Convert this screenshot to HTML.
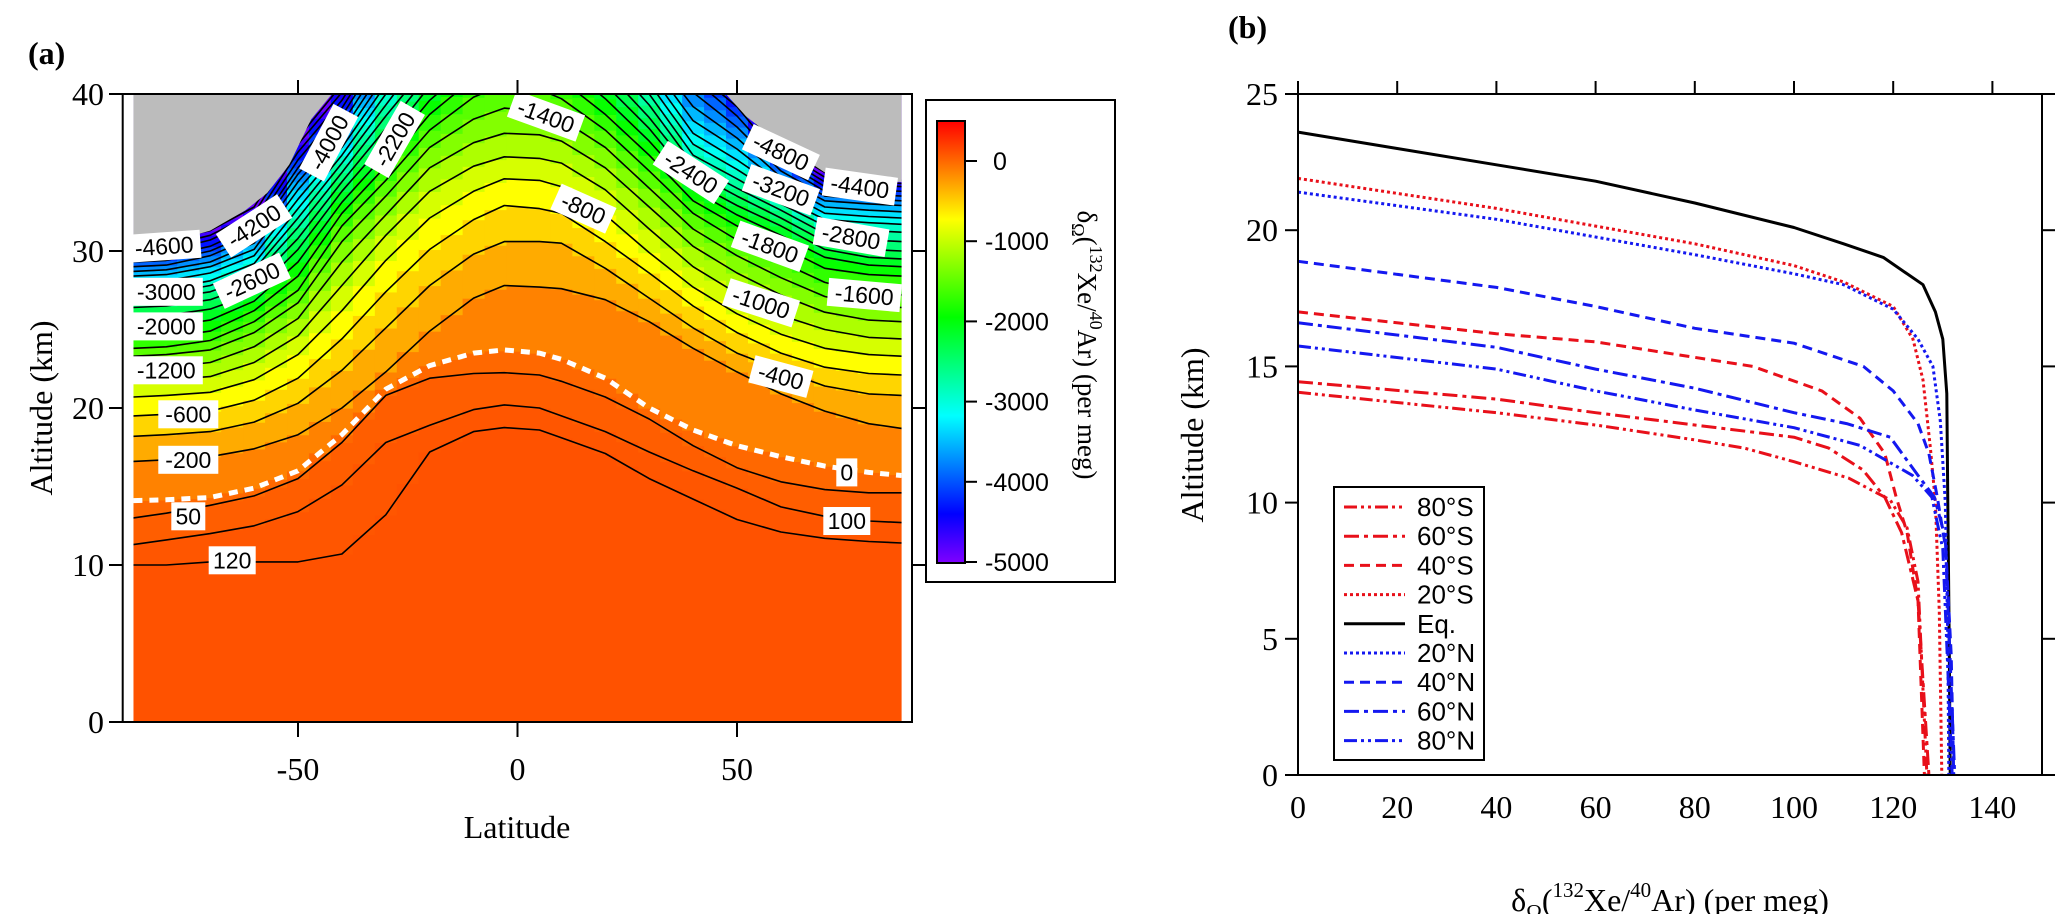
<!DOCTYPE html>
<html>
<head>
<meta charset="utf-8">
<style>
html,body{margin:0;padding:0;background:#fff;}
svg{display:block;}
text{font-family:"Liberation Serif",serif;}
.sans{font-family:"Liberation Sans",sans-serif;}
</style>
</head>
<body>
<svg id="fig" width="2066" height="914" viewBox="0 0 2066 914" xmlns="http://www.w3.org/2000/svg">
  <defs>
    <clipPath id="clipA"><rect x="133.4" y="94" width="768.2" height="628"/></clipPath>
    <linearGradient id="cbGrad" x1="0" y1="0" x2="0" y2="1">
      <stop offset="0" stop-color="hsl(0,100%,50%)"/>
      <stop offset="0.111" stop-color="hsl(30,100%,50%)"/>
      <stop offset="0.222" stop-color="hsl(60,100%,50%)"/>
      <stop offset="0.333" stop-color="hsl(90,100%,50%)"/>
      <stop offset="0.444" stop-color="hsl(120,100%,50%)"/>
      <stop offset="0.556" stop-color="hsl(150,100%,50%)"/>
      <stop offset="0.667" stop-color="hsl(180,100%,50%)"/>
      <stop offset="0.778" stop-color="hsl(210,100%,50%)"/>
      <stop offset="0.889" stop-color="hsl(240,100%,50%)"/>
      <stop offset="1" stop-color="hsl(270,100%,50%)"/>
    </linearGradient>
  </defs>
  <g id="panelA">
    <g id="fieldA" clip-path="url(#clipA)"></g>
    <g id="linesA" clip-path="url(#clipA)"></g>
    <g id="labelsA"></g>
    <g id="axesA"></g>
    <text x="28" y="64" font-size="32" font-weight="bold">(a)</text>
    <text x="517" y="838" font-size="32" text-anchor="middle">Latitude</text>
    <text transform="translate(52,408) rotate(-90)" font-size="32" text-anchor="middle">Altitude (km)</text>
  </g>
  <g id="colorbar">
    <rect x="926" y="100" width="189" height="482" fill="#fff" stroke="#000" stroke-width="2"/>
    <rect x="937" y="121" width="28" height="442" fill="url(#cbGrad)" stroke="#000" stroke-width="2"/>
    <g id="cbTicks"></g>
    <text transform="translate(1078,345) rotate(90)" font-size="27" text-anchor="middle">δ<tspan font-size="18" dy="6">Ω</tspan><tspan dy="-6">(</tspan><tspan font-size="18" dy="-12">132</tspan><tspan dy="12">Xe/</tspan><tspan font-size="18" dy="-12">40</tspan><tspan dy="12">Ar) (per meg)</tspan></text>
  </g>
  <g id="panelB">
    <g id="linesB"></g>
    <g id="axesB"></g>
    <g id="legendB"></g>
    <text x="1228" y="38" font-size="32" font-weight="bold">(b)</text>
    <text transform="translate(1203,435) rotate(-90)" font-size="32" text-anchor="middle">Altitude (km)</text>
    <text x="1670" y="911" font-size="32" text-anchor="middle">δ<tspan font-size="21" dy="8">Ω</tspan><tspan dy="-8">(</tspan><tspan font-size="21" dy="-14">132</tspan><tspan dy="14">Xe/</tspan><tspan font-size="21" dy="-14">40</tspan><tspan dy="14">Ar) (per meg)</tspan></text>
  </g>
</svg>
<script>
// ---------- Panel (a) data ----------
const levels = [120,100,50,0,-200,-400,-600,-800,-1000,-1200,-1400,-1600,-1800,-2000,-2200,-2400,-2600,-2800,-3000,-3200,-3400,-3600,-3800,-4000,-4200,-4400,-4600,-4800];
const gridLat = [-87.5,-80,-70,-60,-50,-40,-30,-20,-10,-3,5,10,20,30,40,50,60,70,80,87.5];
// altitude (km) of every contour level, one row per latitude in gridLat
const altByLat = [
 [10.0,11.3,13.0,14.1,16.6,18.2,19.5,20.7,21.7,22.5,23.3,23.8,24.4,25.1,25.8,26.4,26.9,27.2,27.5,28.0,28.4,28.7,29.0,29.3,29.6,29.9,30.2,30.6],
 [10.0,11.6,13.3,14.15,16.7,18.3,19.6,20.8,21.8,22.6,23.4,23.9,24.5,25.2,25.9,26.5,27.0,27.3,27.6,28.1,28.5,28.8,29.1,29.4,29.7,30.0,30.3,30.7],
 [10.2,12.0,13.8,14.3,16.9,18.5,19.8,21.0,22.0,22.9,23.7,24.3,24.9,25.6,26.3,26.9,27.4,27.8,28.1,28.6,29.0,29.3,29.7,30.0,30.3,30.7,31.0,31.3],
 [10.2,12.5,14.4,14.9,17.4,19.1,20.5,21.8,22.9,23.9,24.8,25.5,26.2,26.8,27.3,27.9,28.4,28.8,29.2,29.7,30.1,30.5,30.9,31.2,31.6,32.0,32.4,32.8],
 [10.2,13.4,15.5,16.0,18.3,20.3,21.9,23.4,24.6,25.7,26.7,27.5,28.4,29.3,30.1,30.8,31.5,32.1,32.7,33.3,33.9,34.4,34.9,35.3,35.8,36.3,36.8,37.2],
 [10.7,15.1,17.8,18.3,20.0,22.4,24.4,26.2,27.8,29.3,30.6,31.6,32.4,33.1,33.8,34.4,35.0,35.6,36.1,36.6,37.1,37.6,38.1,38.6,39.1,39.6,40.1,40.6],
 [13.2,17.8,20.8,21.2,22.3,25.1,27.4,29.4,31.0,32.3,33.5,34.5,35.4,36.2,37.0,37.8,38.6,39.3,40.0,40.6,41.2,41.8,42.4,43.0,43.5,44.0,44.5,45.0],
 [17.2,18.9,21.9,22.7,24.9,27.8,30.1,32.1,33.8,35.3,36.6,37.7,38.7,39.6,40.5,41.3,42,43,44,45,46,47,48,49],
 [18.5,19.9,22.2,23.5,27.0,29.8,32.0,33.8,35.4,36.9,38.4,39.8,41.0,42,43,44,45,46,47,48,49,50,51,52],
 [18.75,20.2,22.25,23.7,27.8,30.6,32.9,34.6,36.0,37.5,39.1,40.6,42,43,44,45,46,47,48,49,50,51,52,53],
 [18.6,20.0,22.1,23.5,27.7,30.6,32.7,34.5,35.9,37.4,38.9,40.3,41.5,42.5,43.5,44.5,45.5,46.5,47.5,48.5,49.5,50.5,51.5,52.5],
 [18.1,19.5,21.7,23.1,27.6,30.5,32.4,34.1,35.6,37.0,38.4,39.7,40.9,42,43,44,45,46,47,48,49,50,51,52],
 [17.1,18.5,20.7,21.9,26.9,28.9,30.6,32.3,33.9,35.3,36.6,37.7,38.7,39.7,40.6,41.5,42.4,43.3,44.2,45.1,46.0,46.9,47.8,48.7],
 [15.5,17.2,19.3,20.0,25.5,27.0,28.6,29.9,31.4,32.8,34.0,35.1,36.1,37.0,37.8,38.5,39.3,40.0,40.7,41.4,42.1,42.8,43.5,44.2],
 [14.2,16.0,17.6,18.6,23.8,25.1,26.5,27.7,29.0,30.3,31.4,32.4,33.2,33.9,34.4,35.0,35.5,36.1,36.8,37.5,38.3,39.2,40.1,41.0,41.5,42.0,42.5,43.0],
 [12.9,14.9,16.2,17.6,22.3,23.5,24.8,26.0,27.3,28.6,29.7,30.7,31.6,32.3,32.9,33.5,34.0,34.6,35.2,35.8,36.5,37.2,37.9,38.6,39.2,39.7,40.2,40.6],
 [12.1,13.7,15.3,16.9,20.9,22.4,23.5,24.7,25.9,27.2,28.3,29.3,30.3,31.0,31.6,32.1,32.6,33.0,33.4,33.9,34.3,34.7,35.1,35.5,35.8,36.1,36.4,36.7],
 [11.7,13.1,14.8,16.3,19.8,21.4,22.6,23.8,25.0,26.1,27.1,28.0,28.9,29.6,30.1,30.6,31.1,31.6,32.0,32.4,32.8,33.2,33.5,33.8,34.1,34.4,34.7,35.0],
 [11.5,12.8,14.6,15.9,19.0,20.9,22.2,23.4,24.5,25.6,26.5,27.3,28.5,29.1,29.6,30.1,30.7,31.3,31.8,32.2,32.6,33.0,33.3,33.6,33.9,34.2,34.4,34.6],
 [11.4,12.7,14.6,15.7,18.7,20.8,22.1,23.3,24.4,25.5,26.4,27.2,28.4,29.0,29.5,30.0,30.6,31.2,31.7,32.1,32.5,32.9,33.2,33.5,33.8,34.1,34.3,34.5]
];
// masked (no data) region boundaries [lat, km]
const greyLeft = [[-87.5,40],[-87.5,30.9],[-75,30.9],[-70,31.3],[-62,32.6],[-57,33.7],[-52,35.5],[-47,38.4],[-42.3,40]];
const greyRight = [[47.5,40],[52,38.6],[57,37.5],[62,36.5],[70,35.0],[78,34.5],[87.5,34.4],[87.5,40]];
// contour labels: text, lat, km, angle
const labelText = ["-4600","-4200","-4000","-2200","-3000","-2600","-2000","-1200","-600","-200","50","120","-1400","-800","-2400","-4800","-3200","-4400","-2800","-1800","-1600","-1000","-400","0","100"];
const labelLat = [-80.5,-60,-43,-28,-80,-60.5,-80,-80,-75,-75,-75,-65,6.5,15,39.5,60,60,78,76,57.5,79,55.5,60,75,75];
const labelKm = [30.3,31.6,36.9,37.1,27.4,28.1,25.2,22.4,19.6,16.7,13.1,10.3,38.6,32.7,35.0,36.3,33.9,34.1,30.9,30.3,27.2,26.7,22.0,15.9,12.8];
const labelAng = [-4,-33,-62,-60,0,-25,0,0,0,0,0,0,20,24,33,25,20,8,10,20,5,18,15,0,0];
const latTicks = [-50,0,50];
const altTicksA = [0,10,20,30,40];
const cbTicks = [0,-1000,-2000,-3000,-4000,-5000];

// ---------- Panel (b) data ----------
const seriesNames = ["80°S","60°S","40°S","20°S","Eq.","20°N","40°N","60°N","80°N"];
const x80S = [0,40,60,80,90,100,111,119.4,122.8,125,126.8];
const y80S = [14.05,13.3,12.85,12.3,12.0,11.5,10.9,10.1,9.07,7.1,0];
const x60S = [0,40,60,80,100,107,113.9,118.3,121.7,125,127.2];
const y60S = [14.44,13.8,13.3,12.85,12.4,12.0,11.2,10.2,8.9,6.4,0];
const x40S = [0,40,60,91.7,105.6,113.3,118.3,120.6,122.8,125,126.3];
const y40S = [17.0,16.2,15.9,15.0,14.1,13.1,11.8,10.2,8.9,6.4,0];
const x20S = [0,40,80,100,110,120,124,126,127.5,128.5,129.3,129.8];
const y20S = [21.9,20.8,19.5,18.7,18.1,17.2,16.0,14.5,12,10,6,0];
const xEq = [0,20,40,60,80,100,110,118,126,128.5,130,130.8,131,131.3,131.5];
const yEq = [23.6,23.0,22.4,21.8,21.0,20.1,19.5,19.0,18.0,17.0,16.0,14.0,10.0,5.0,0];
const x20N = [0,40,80,100,110,120,125,128,129.5,130.5,131,131.2];
const y20N = [21.4,20.4,19.1,18.4,18.0,17.1,16.0,15.0,13,10,5,0];
const x40N = [0,40,60,80,100,114,120,125,127.2,128.9,130.6,131.7,132.2];
const y40N = [18.86,17.9,17.2,16.4,15.85,15.0,14.1,12.9,11.8,10.2,8.3,4.4,0];
const x60N = [0,40,60,80,100,110.6,119.4,125,128.3,130.5,132.4];
const y60N = [16.6,15.7,14.9,14.2,13.3,12.9,12.4,11.0,10.2,8.7,0];
const x80N = [0,40,60,80,100,113.3,123.9,127.8,130,131.9];
const y80N = [15.75,14.9,14.1,13.4,12.75,12.1,11.0,10.2,8.3,0];
const xTicksB = [0,20,40,60,80,100,120,140];
const yTicksB = [0,5,10,15,20,25];

const NS = "http://www.w3.org/2000/svg";
function mk(parent, tag, attrs) {
  const e = document.createElementNS(NS, tag);
  for (const k in attrs) e.setAttribute(k, attrs[k]);
  parent.appendChild(e);
  return e;
}
// axis functions
const ax = lat => 517.5 + lat * 4.39;
const ay = km => 722 - km * 15.7;
const bx = v => 1298 + v * 4.96;
const by = km => 775 - km * 27.24;
const cy = v => 161 - v * 0.0802;
function colorOf(v) {
  let t = (v + 5000) / 5525; t = Math.max(0, Math.min(1, t));
  return "hsl(" + (270 * (1 - t)).toFixed(1) + ",100%,50%)";
}
function altAt(lat, li) {
  const row = altByLat.map(r => r[li] !== undefined ? r[li] : 60);
  if (lat <= gridLat[0]) return row[0];
  for (let j = 0; j < gridLat.length - 1; j++) {
    if (lat <= gridLat[j + 1]) {
      const f = (lat - gridLat[j]) / (gridLat[j + 1] - gridLat[j]);
      return row[j] + f * (row[j + 1] - row[j]);
    }
  }
  return row[row.length - 1];
}

// ---------- draw panel (a) field ----------
const field = document.getElementById("fieldA");
for (let c = -87.5; c < 87.5; c += 5) {
  const lc = c + 2.5;
  let prev = 0;
  for (let i = 0; i <= levels.length; i++) {
    let top = i < levels.length ? Math.max(altAt(lc, i), prev) : 40;
    const val = i === 0 ? 130 : (i < levels.length ? (levels[i - 1] + levels[i]) / 2 : -4900);
    if (top > prev) {
      const r = mk(field, "rect", {x: ax(c).toFixed(2), y: ay(Math.min(top, 40)).toFixed(2), width: (ax(c + 5) - ax(c) + 0.6).toFixed(2), height: (ay(prev) - ay(Math.min(top, 40)) + 0.6).toFixed(2), fill: colorOf(val)});
      
      
    }
    prev = top;
    if (prev >= 40) break;
  }
}
function poly(pts) { return pts.map(p => ax(p[0]).toFixed(1) + "," + ay(p[1]).toFixed(1)).join(" "); }
const gl = mk(field, "polygon", {points: poly(greyLeft), fill: "#bcbcbc"});


const gr = mk(field, "polygon", {points: poly(greyRight), fill: "#bcbcbc"});



// contour lines
const linesA = document.getElementById("linesA");
for (let li = 0; li < levels.length; li++) {
  const pts = gridLat.map((lat, j) => ax(lat).toFixed(1) + "," + ay(altByLat[j][li] !== undefined ? altByLat[j][li] : 60).toFixed(1)).join(" ");
  const zero = levels[li] === 0;
  const pl = mk(linesA, "polyline", {points: pts, fill: "none", stroke: zero ? "#fff" : "#000", "stroke-width": zero ? 5 : 1.6, "stroke-dasharray": zero ? "9 7" : "none", "stroke-linejoin": "round"});
  
  
}
// grey drawn over lines near top
const gl2 = mk(linesA, "polygon", {points: poly(greyLeft), fill: "#bcbcbc"});


const gr2 = mk(linesA, "polygon", {points: poly(greyRight), fill: "#bcbcbc"});



// contour labels
const labelsA = document.getElementById("labelsA");
for (let k = 0; k < labelText.length; k++) {
  const g = mk(labelsA, "g", {transform: "translate(" + ax(labelLat[k]).toFixed(1) + "," + ay(labelKm[k]).toFixed(1) + ") rotate(" + labelAng[k] + ")"});
  
  
  const w = labelText[k].length * 13 + 8;
  const r = mk(g, "rect", {x: -w / 2, y: -14, width: w, height: 28, fill: "#fff"});
  
  
  const t = mk(g, "text", {x: 0, y: 8, "font-size": 23, "text-anchor": "middle", class: "sans"});
  
  
  t.textContent = labelText[k];
}

// axes panel a
const axesA = document.getElementById("axesA");
const frameA = mk(axesA, "rect", {x: 122.7, y: 94, width: 789.3, height: 628, fill: "none", stroke: "#000", "stroke-width": 2});


altTicksA.forEach(v => {
  const l = mk(axesA, "line", {x1: 109, x2: 122.7, y1: ay(v), y2: ay(v), stroke: "#000", "stroke-width": 2});
  
  
  const t = mk(axesA, "text", {x: 104, y: ay(v) + 11, "font-size": 32, "text-anchor": "end"});
  
  
  t.textContent = v;
  if (v > 0 && v < 40) {
    const r = mk(axesA, "line", {x1: 912, x2: 925, y1: ay(v), y2: ay(v), stroke: "#000", "stroke-width": 2});
    
    
  }
});
latTicks.forEach(v => {
  const l = mk(axesA, "line", {x1: ax(v), x2: ax(v), y1: 722, y2: 737, stroke: "#000", "stroke-width": 2});
  
  
  const l2 = mk(axesA, "line", {x1: ax(v), x2: ax(v), y1: 80, y2: 94, stroke: "#000", "stroke-width": 2});
  
  
  const t = mk(axesA, "text", {x: ax(v), y: 780, "font-size": 32, "text-anchor": "middle"});
  
  
  t.textContent = v;
});

// colorbar ticks
const cbt = document.getElementById("cbTicks");
cbTicks.forEach(v => {
  const l = mk(cbt, "line", {x1: 965, x2: 977, y1: cy(v), y2: cy(v), stroke: "#000", "stroke-width": 2});
  
  
  const t = mk(cbt, "text", {x: v === 0 ? 993 : 985, y: cy(v) + 9, "font-size": 25, class: "sans"});
  
  
  t.textContent = v;
});

// ---------- panel (b) ----------
const seriesX = [x80S, x60S, x40S, x20S, xEq, x20N, x40N, x60N, x80N];
const seriesY = [y80S, y60S, y40S, y20S, yEq, y20N, y40N, y60N, y80N];
const seriesColor = ["#e8101a","#e8101a","#e8101a","#e8101a","#000","#1418f0","#1418f0","#1418f0","#1418f0"];
const seriesDash = ["13 4 3 4 3 4","15 5 4 5","10 6","3 3","none","3 3","10 6","15 5 4 5","13 4 3 4 3 4"];
const linesB = document.getElementById("linesB");
for (let s = 0; s < seriesX.length; s++) {
  const pts = seriesX[s].map((v, i) => bx(v).toFixed(1) + "," + by(seriesY[s][i]).toFixed(1)).join(" ");
  const pl = mk(linesB, "polyline", {points: pts, fill: "none", stroke: seriesColor[s], "stroke-width": 3, "stroke-dasharray": seriesDash[s], "stroke-linejoin": "round"});
  
  
}
const axesB = document.getElementById("axesB");
const frameB = mk(axesB, "rect", {x: 1298, y: 94, width: 744, height: 681, fill: "none", stroke: "#000", "stroke-width": 2});


yTicksB.forEach(v => {
  const l = mk(axesB, "line", {x1: 1285, x2: 1298, y1: by(v), y2: by(v), stroke: "#000", "stroke-width": 2});
  
  
  const r = mk(axesB, "line", {x1: 2042, x2: 2055, y1: by(v), y2: by(v), stroke: "#000", "stroke-width": 2});
  
  
  const t = mk(axesB, "text", {x: 1278, y: by(v) + 11, "font-size": 32, "text-anchor": "end"});
  
  
  t.textContent = v;
});
xTicksB.forEach(v => {
  const l = mk(axesB, "line", {x1: bx(v), x2: bx(v), y1: 81, y2: 94, stroke: "#000", "stroke-width": 2});
  
  
  const t = mk(axesB, "text", {x: bx(v), y: 818, "font-size": 32, "text-anchor": "middle"});
  
  
  t.textContent = v;
});
// legend
const leg = document.getElementById("legendB");
const lbox = mk(leg, "rect", {x: 1334, y: 487, width: 150, height: 273, fill: "#fff", stroke: "#000", "stroke-width": 2});


for (let s = 0; s < seriesNames.length; s++) {
  const yy = 507 + s * 29.2;
  const l = mk(leg, "line", {x1: 1344, x2: 1405, y1: yy, y2: yy, stroke: seriesColor[s], "stroke-width": 3, "stroke-dasharray": seriesDash[s]});
  
  
  const t = mk(leg, "text", {x: 1417, y: yy + 9, "font-size": 26, class: "sans"});
  
  
  t.textContent = seriesNames[s];
}
</script>
</body>
</html>
